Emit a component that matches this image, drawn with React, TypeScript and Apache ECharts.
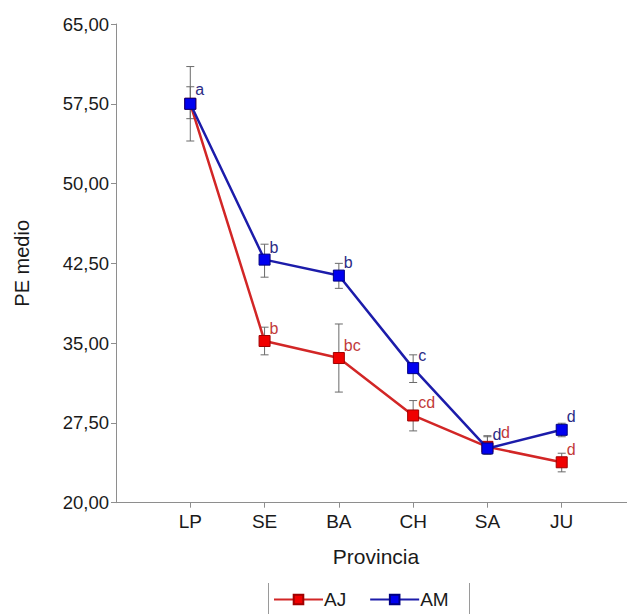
import React, { useEffect, useRef } from "react";
import * as echarts from "echarts";

const categories = ["LP", "SE", "BA", "CH", "SA", "JU"];
const yTicks = [20, 27.5, 35, 42.5, 50, 57.5, 65];

const ajMean = [57.5, 35.2, 33.6, 28.2, 25.25, 23.8];
const ajUpper = [61.0, 36.5, 36.8, 29.6, 26.2, 24.65];
const ajLower = [54.0, 33.9, 30.4, 26.75, 24.55, 22.9];
const ajLetters = ["", "b", "bc", "cd", "d", "d"];
const ajLetterAt = [null, 36.4, 34.77, 29.4, 26.59, 24.96];

const amMean = [57.5, 42.85, 41.35, 32.65, 25.1, 26.85];
const amUpper = [59.1, 44.3, 42.5, 33.9, 26.3, 27.47];
const amLower = [56.1, 41.2, 40.15, 31.3, 24.55, 26.2];
const amLetters = ["a", "b", "b", "c", "d", "d"];
const amLetterAt = [58.82, 43.96, 42.55, 33.8, 26.37, 28.09];

const FONT = "'Liberation Sans', Arial, sans-serif";
const AXIS_COLOR = "#8e8e8e";

export default function App() {
  const ref = useRef<HTMLDivElement>(null);

  useEffect(() => {
    if (!ref.current) return;
    const chart = echarts.init(ref.current, undefined, { renderer: "svg" });

    const errData = (lo: number[], hi: number[]) =>
      categories.map((_, i) => [i + 1, lo[i], hi[i]]);

    const errRender = (params: any, api: any) => {
      const x = api.value(0);
      const lo = api.coord([x, api.value(1)]);
      const hi = api.coord([x, api.value(2)]);
      const cap = 4;
      const style = { stroke: "#6a6a6a", lineWidth: 1 };
      return {
        type: "group",
        children: [
          { type: "line", shape: { x1: hi[0], y1: hi[1], x2: lo[0], y2: lo[1] }, style },
          { type: "line", shape: { x1: hi[0] - cap, y1: hi[1], x2: hi[0] + cap, y2: hi[1] }, style },
          { type: "line", shape: { x1: lo[0] - cap, y1: lo[1], x2: lo[0] + cap, y2: lo[1] }, style },
        ],
      };
    };

    const letterData = (letters: string[], at: (number | null)[]) =>
      categories
        .map((_, i) => (letters[i] && at[i] != null ? [i + 1, at[i], i] : null))
        .filter((d) => d !== null) as number[][];

    const letterRender = (letters: string[], color: string, isAJ: boolean) => (params: any, api: any) => {
      const idx = api.value(2);
      const p = api.coord([api.value(0), api.value(1)]);
      let dx = 5;
      if (isAJ && amLetters[idx] && amLetterAt[idx] != null && Math.abs((amLetterAt[idx] as number) - (ajLetterAt[idx] as number)) < 1) {
        dx += 8.5 * amLetters[idx].length;
      }
      return {
        type: "text",
        x: p[0] + dx,
        y: p[1],
        style: {
          text: letters[idx],
          fill: color,
          font: `16px ${FONT}`,
          textAlign: "left",
          textVerticalAlign: "middle",
        },
      };
    };

    chart.setOption({
      animation: false,
      backgroundColor: "#ffffff",
      grid: {
        left: 116,
        top: 24,
        width: 520,
        height: 478.7,
        containLabel: false,
        outerBoundsMode: "none",
      },
      legend: {
        left: 273,
        top: 590,
        itemWidth: 49,
        itemHeight: 12,
        itemGap: 23,
        padding: 0,
        textStyle: { fontFamily: FONT, fontSize: 19, color: "#1a1a1a", padding: [0, 0, 0, -4] },
        data: ["AJ", "AM"],
      },
      xAxis: {
        type: "value",
        min: 0,
        max: 7,
        name: "Provincia",
        nameLocation: "middle",
        nameGap: 43,
        nameTextStyle: { fontFamily: FONT, fontSize: 21, color: "#1a1a1a" },
        axisLine: { lineStyle: { color: AXIS_COLOR, width: 1 } },
        axisTick: {
          show: true,
          length: 5,
          lineStyle: { color: AXIS_COLOR },
          customValues: categories.map((_, i) => i + 1),
        },
        axisLabel: {
          fontFamily: FONT,
          fontSize: 19,
          color: "#1a1a1a",
          margin: 9,
          customValues: categories.map((_, i) => i + 1),
          formatter: (v: number) => categories[Math.round(v) - 1] ?? "",
        },
        splitLine: { show: false },
      },
      yAxis: {
        type: "value",
        min: 20,
        max: 65,
        name: "PE medio",
        nameLocation: "middle",
        nameRotate: 90,
        nameGap: 84,
        nameTextStyle: { fontFamily: FONT, fontSize: 20, color: "#1a1a1a" },
        axisLine: { show: true, lineStyle: { color: AXIS_COLOR, width: 1 } },
        axisTick: {
          show: true,
          length: 5,
          lineStyle: { color: AXIS_COLOR },
          customValues: yTicks,
        },
        axisLabel: {
          fontFamily: FONT,
          fontSize: 18.5,
          color: "#1a1a1a",
          margin: 7,
          customValues: yTicks,
          formatter: (v: number) => v.toFixed(2).replace(".", ","),
        },
        splitLine: { show: false },
      },
      graphic: [
        { type: "line", shape: { x1: 268.5, y1: 583, x2: 268.5, y2: 614 }, style: { stroke: "#9a9a9a", lineWidth: 1 } },
        { type: "line", shape: { x1: 469.5, y1: 583, x2: 469.5, y2: 614 }, style: { stroke: "#9a9a9a", lineWidth: 1 } },
      ],
      series: [
        {
          type: "custom",
          name: "errAJ",
          renderItem: errRender,
          data: errData(ajLower, ajUpper),
          z: 1,
          silent: true,
        },
        {
          type: "custom",
          name: "errAM",
          renderItem: errRender,
          data: errData(amLower, amUpper),
          z: 1,
          silent: true,
        },
        {
          type: "line",
          name: "AJ",
          data: ajMean.map((v, i) => [i + 1, v]),
          symbol: "rect",
          symbolSize: 11,
          lineStyle: { color: "#d22626", width: 2.5 },
          itemStyle: { color: "#f00000", borderColor: "#a00000", borderWidth: 1 },
          z: 2,
        },
        {
          type: "line",
          name: "AM",
          data: amMean.map((v, i) => [i + 1, v]),
          symbol: "rect",
          symbolSize: 11,
          lineStyle: { color: "#1c1caa", width: 2.5 },
          itemStyle: { color: "#0000f0", borderColor: "#000080", borderWidth: 1 },
          z: 3,
        },
        {
          type: "custom",
          name: "lblAM",
          renderItem: letterRender(amLetters, "#2b2b85", false),
          data: letterData(amLetters, amLetterAt),
          z: 4,
          silent: true,
        },
        {
          type: "custom",
          name: "lblAJ",
          renderItem: letterRender(ajLetters, "#c23a3a", true),
          data: letterData(ajLetters, ajLetterAt),
          z: 4,
          silent: true,
        },
      ],
    });

    return () => chart.dispose();
  }, []);

  return (
    <div
      ref={ref}
      style={{ position: "fixed", left: 0, top: 0, width: 627, height: 614, background: "#fff" }}
    />
  );
}
